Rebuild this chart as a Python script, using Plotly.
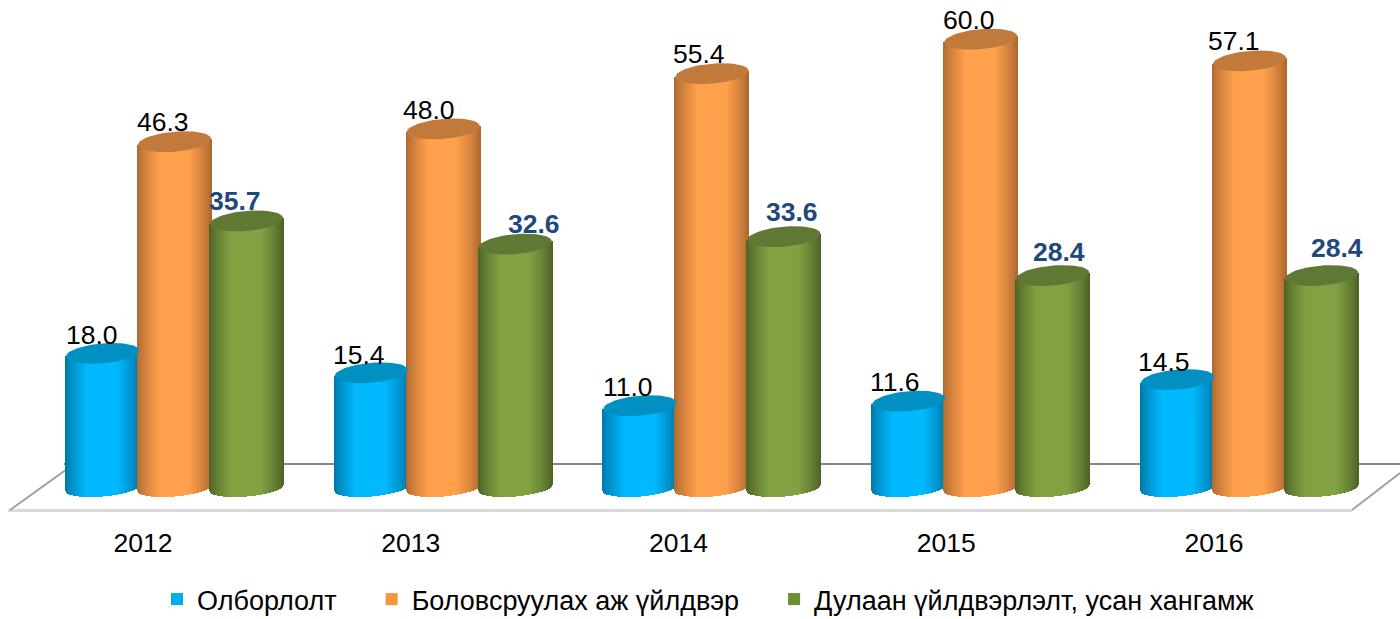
import numpy as np
import plotly.graph_objects as go

# ---- data ----
years = ["2012", "2013", "2014", "2015", "2016"]
mining = [18.0, 15.4, 11.0, 11.6, 14.5]
manufacturing = [46.3, 48.0, 55.4, 60.0, 57.1]
utilities = [35.7, 32.6, 33.6, 28.4, 28.4]
series_names = ["Олборлолт", "Боловсруулах аж үйлдвэр", "Дулаан үйлдвэрлэлт, усан хангамж"]

# ---- style / layout constants ----
W, H = 1400, 619
PX_PER_GROUP = 268.75
PX_PER_UNIT = 7.48
GROUP0_PX = 174.5
ZERO_PX = 488.0
AXIS_PX = 512.0
R_PX = 36.5
SERIES_OFFSET_PX = [-72, 0, 72]
BASE_B_PX = 8.5
CAP_B_PX = 10.0
TILT_PX = 3.0
BASE_SHIFT = 0.0
N_STRIPS = 73
CENTER = ["#00B9FF", "#FFA04C", "#82A142"]
EDGE = ["#0078A8", "#AF6A30", "#4E6428"]
CAP = ["#0090C2", "#C27A3C", "#5F7833"]
LEGEND = ["#00AEEF", "#F7963C", "#6E8C30"]
LABEL_BLUE = "#1F497D"
FONT = "Liberation Sans, Arial, sans-serif"
FONT_PX = 26.5
LEGEND_FONT_PX = 27
# label shifts from the top of each cylinder, in pixels
LABEL_DX = [[-11, -12, -12, -14, -14], [-12, -14, -13, -12, -16], [-12, 19, 8, 6, 15]]
LABEL_DY = [[-18, -18, -19, -19, -18], [-20, -19, -20, -19, -20], [-20, -20, -25, -24, -28]]
TICK_ORIGIN_PX = 143.0
TICK_STEP_PX = 267.75

xu = lambda px: px / PX_PER_GROUP
yu = lambda px: px / PX_PER_UNIT
x_range = [xu(0 - GROUP0_PX), xu(W - GROUP0_PX)]
y_range = [yu(ZERO_PX - AXIS_PX), yu(ZERO_PX)]


def hex2rgb(h):
    return np.array([int(h[i:i + 2], 16) for i in (1, 3, 5)], float)


def shade(t, edge, center):
    k = min(1.0, (1 - abs(t)) / 0.6)
    k = k ** 0.8
    c = hex2rgb(edge) * (1 - k) + hex2rgb(center) * k
    return "rgb(%d,%d,%d)" % tuple(c)


fig = go.Figure()
values = [mining, manufacturing, utilities]
ts = np.linspace(-1, 1, N_STRIPS)
strip_w = xu(2 * R_PX / (N_STRIPS - 1)) * 1.15

# cylinder bodies: one bar per strip, so that the shading can vary across the width
for s, vals in enumerate(values):
    xs, ys, bases, colors = [], [], [], []
    for i, v in enumerate(vals):
        cx = i + xu(SERIES_OFFSET_PX[s])
        for t in ts:
            arc = yu(TILT_PX) * t - yu(BASE_B_PX) * np.sqrt(max(0, 1 - t * t))
            xs.append(cx + t * xu(R_PX))
            bases.append(BASE_SHIFT + arc)
            ys.append(v - BASE_SHIFT)
            colors.append(shade(t, EDGE[s], CENTER[s]))
    fig.add_trace(go.Bar(x=xs, y=ys, base=bases, width=strip_w,
                         marker=dict(color=colors, line=dict(width=0)),
                         hoverinfo="skip", showlegend=False))

# cylinder tops
theta = np.linspace(0, 2 * np.pi, 73)
for s, vals in enumerate(values):
    xs, ys = [], []
    for i, v in enumerate(vals):
        cx = i + xu(SERIES_OFFSET_PX[s])
        xs += list(cx + np.cos(theta) * xu(R_PX)) + [None]
        ys += list(v + yu(TILT_PX) * np.cos(theta) + yu(CAP_B_PX) * np.sin(theta)) + [None]
    fig.add_trace(go.Scatter(x=xs, y=ys, mode="lines", fill="toself", fillcolor=CAP[s],
                             line=dict(width=0, color=CAP[s]),
                             hoverinfo="skip", showlegend=False))

# legend entries
for s, name in enumerate(series_names):
    fig.add_trace(go.Scatter(x=[None], y=[None], mode="markers", name=name + "\u00a0" * 4,
                             marker=dict(symbol="square", size=16, color=LEGEND[s])))

# data labels
annotations = []
for s, vals in enumerate(values):
    for i, v in enumerate(vals):
        annotations.append(dict(
            x=i + xu(SERIES_OFFSET_PX[s]), y=v, text=f"{v:.1f}", showarrow=False,
            xshift=LABEL_DX[s][i], yshift=-LABEL_DY[s][i],
            xanchor="center", yanchor="middle",
            font=dict(family=FONT, size=FONT_PX,
                      color=LABEL_BLUE if s == 2 else "#000000",
                      weight="bold" if s == 2 else "normal"),
        ))

# floor of the 3-D plot, in page fractions
fx = lambda px: px / W
fy = lambda px: 1 - (px - 0) / AXIS_PX
floor = [
    ((8, 510.5), (1352, 510.5), "#DADADA", 3),
    ((10, 510), (74, 464), "#A0A0A0", 2),
    ((1352, 510), (1400, 473), "#A0A0A0", 2),
    ((64, 464), (1400, 464), "#868686", 2),
]
shapes = [dict(type="line", xref="paper", yref="paper", layer="below",
               x0=fx(a[0]), y0=fy(a[1]), x1=fx(b[0]), y1=fy(b[1]),
               line=dict(color=c, width=w)) for a, b, c, w in floor]

fig.update_layout(
    width=W, height=H,
    margin=dict(l=0, r=0, t=0, b=H - AXIS_PX, pad=0, autoexpand=False),
    paper_bgcolor="white", plot_bgcolor="white",
    barmode="overlay", bargap=0,
    annotations=annotations, shapes=shapes,
    font=dict(family=FONT, size=FONT_PX, color="#000000"),
    xaxis=dict(range=x_range, showgrid=False, zeroline=False, showline=False,
               tickmode="array",
               tickvals=[xu(TICK_ORIGIN_PX + TICK_STEP_PX * i - GROUP0_PX) for i in range(len(years))],
               ticktext=years, ticks="", ticklabelstandoff=12,
               tickfont=dict(family=FONT, size=FONT_PX, color="#000000")),
    yaxis=dict(range=y_range, visible=False),
    legend=dict(orientation="h", x=157 / W, xanchor="left", y=1 - 575 / AXIS_PX, yanchor="top",
                font=dict(family=FONT, size=LEGEND_FONT_PX, color="#000000"),
                itemsizing="constant", itemwidth=30, bgcolor="rgba(0,0,0,0)"),
)

fig.write_html("out.html", config=dict(displayModeBar=False),
               post_script="document.body.style.margin='0';document.body.style.overflow='hidden';")
